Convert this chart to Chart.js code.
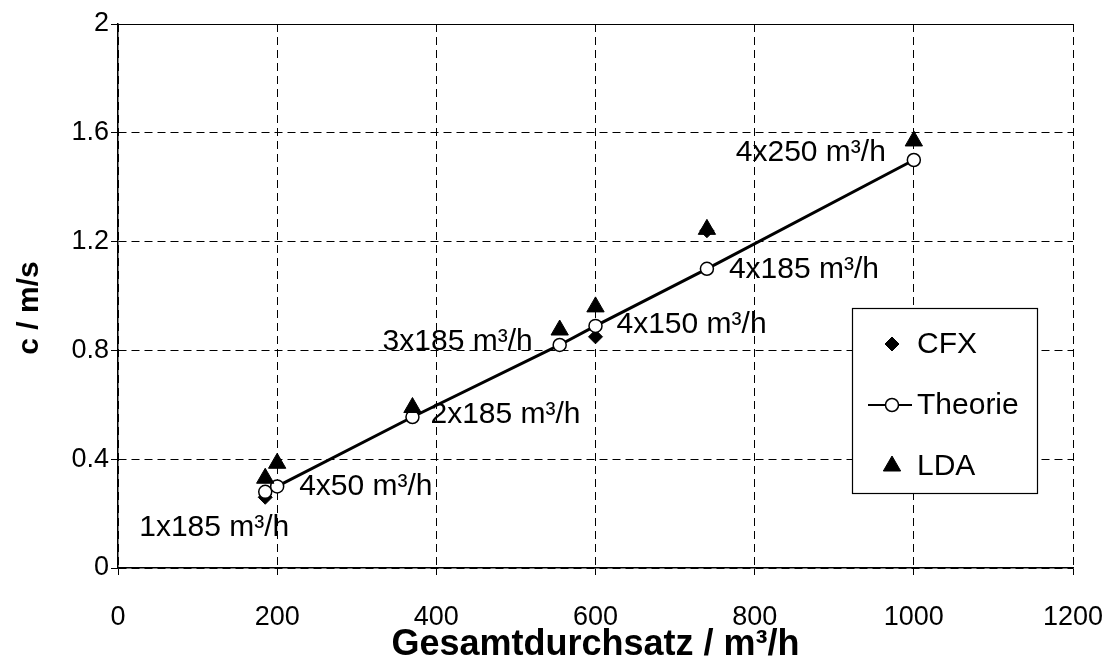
<!DOCTYPE html>
<html>
<head>
<meta charset="utf-8">
<script src="https://cdn.jsdelivr.net/npm/chart.js@4.4.1/dist/chart.umd.min.js"></script>
<style>
  html, body { margin: 0; padding: 0; background: #fff; }
  #wrap { width: 1109px; height: 671px; }
</style>
</head>
<body>
<div id="wrap"><canvas id="chart" width="1109" height="671"></canvas></div>
<script>
// Gesamtdurchsatz in m³/h for each operating case
const flows = [185, 200, 370, 555, 600, 740, 1000];
// Case names written next to the theory points
const caseLabels = ['1x185 m³/h', '4x50 m³/h', '2x185 m³/h', '3x185 m³/h', '4x150 m³/h', '4x185 m³/h', '4x250 m³/h'];
// Velocity c in m/s
const cfxValues = [0.26, null, 0.575, null, 0.85, 1.24, null];
const theorieValues = [0.28, 0.30, 0.555, 0.82, 0.89, 1.10, 1.50];
const ldaValues = [0.33, 0.385, 0.59, 0.875, 0.96, 1.245, 1.57];
// Axis ticks
const xTicks = [0, 200, 400, 600, 800, 1000, 1200];
const yTicks = [0, 0.4, 0.8, 1.2, 1.6, 2];
const yTitle = 'c / m/s';
const xTitle = 'Gesamtdurchsatz / m³/h';

const FONT = '"Liberation Sans", Arial, Helvetica, sans-serif';

// Offsets of the case labels from their theory point: [dx, dy, align]
const labelOffsets = [
  [-51, 36, 'center'],
  [22, 0, 'left'],
  [18, -2, 'left'],
  [-27, -3, 'right'],
  [21, -1, 'left'],
  [22, 1, 'left'],
  [-28, -7, 'right']
];

const toXY = (xs, ys) => xs.map((v, i) => ({ x: v, y: ys[i] }));

const caseLabelPlugin = {
  id: 'caseLabels',
  afterDatasetsDraw(chart) {
    const { ctx, scales: { x, y } } = chart;
    ctx.save();
    ctx.font = '30px ' + FONT;
    ctx.fillStyle = '#000';
    ctx.textBaseline = 'middle';
    caseLabels.forEach((txt, i) => {
      const [dx, dy, align] = labelOffsets[i];
      ctx.textAlign = align;
      ctx.fillText(txt, x.getPixelForValue(flows[i]) + dx, y.getPixelForValue(theorieValues[i]) + dy);
    });
    ctx.restore();
  }
};

// Rotated y-axis title, centred a little below the middle of the axis
const yTitlePlugin = {
  id: 'yTitle',
  afterDraw(chart) {
    const { ctx, chartArea } = chart;
    ctx.save();
    ctx.translate(30, (chartArea.top + chartArea.bottom) / 2 + 12);
    ctx.rotate(-Math.PI / 2);
    ctx.font = 'bold 30px ' + FONT;
    ctx.fillStyle = '#000';
    ctx.textAlign = 'center';
    ctx.textBaseline = 'middle';
    ctx.fillText(yTitle, 0, 0);
    ctx.restore();
  }
};

// Boxed legend placed inside the plot, lower right
const boxLegendPlugin = {
  id: 'boxLegend',
  afterDraw(chart) {
    const { ctx } = chart;
    const box = { x: 852, y: 308, w: 185, h: 185 };
    ctx.save();
    ctx.fillStyle = '#fff';
    ctx.fillRect(box.x, box.y, box.w, box.h);
    ctx.strokeStyle = '#000';
    ctx.lineWidth = 1.2;
    ctx.strokeRect(box.x + 0.5, box.y + 0.5, box.w, box.h);
    ctx.font = '30px ' + FONT;
    ctx.textBaseline = 'middle';
    ctx.textAlign = 'left';
    chart.data.datasets.forEach((ds, i) => {
      const cy = box.y + 36 + i * 61;
      const mx = box.x + 40;
      if (ds.showLine) {
        ctx.strokeStyle = ds.borderColor;
        ctx.lineWidth = 2;
        ctx.beginPath();
        ctx.moveTo(box.x + 16, cy);
        ctx.lineTo(box.x + 60, cy);
        ctx.stroke();
      }
      ctx.fillStyle = ds.pointBackgroundColor;
      ctx.strokeStyle = ds.pointBorderColor;
      ctx.lineWidth = ds.pointBorderWidth;
      Chart.helpers.drawPoint(ctx, {
        pointStyle: ds.pointStyle,
        radius: ds.pointRadius,
        borderWidth: ds.pointBorderWidth,
        rotation: 0
      }, mx, cy);
      ctx.fillStyle = '#000';
      ctx.fillText(ds.label, box.x + 65, cy + 1);
    });
    ctx.restore();
  }
};

new Chart(document.getElementById('chart'), {
  type: 'scatter',
  data: {
    datasets: [
      {
        label: 'CFX',
        data: toXY(flows, cfxValues),
        showLine: false,
        pointStyle: 'rectRot',
        pointRadius: 7,
        pointBackgroundColor: '#000',
        pointBorderColor: '#000',
        pointBorderWidth: 1,
        order: 3
      },
      {
        label: 'Theorie',
        data: toXY(flows, theorieValues),
        showLine: true,
        borderColor: '#000',
        borderWidth: 3,
        pointStyle: 'circle',
        pointRadius: 6.5,
        pointBackgroundColor: '#fff',
        pointBorderColor: '#000',
        pointBorderWidth: 1.5,
        order: 2
      },
      {
        label: 'LDA',
        data: toXY(flows, ldaValues),
        showLine: false,
        pointStyle: 'triangle',
        pointRadius: 10,
        pointBackgroundColor: '#000',
        pointBorderColor: '#000',
        pointBorderWidth: 1,
        order: 1
      }
    ]
  },
  options: {
    responsive: false,
    animation: false,
    devicePixelRatio: 1,
    layout: { padding: { top: 24, right: 36, left: 0, bottom: 0 } },
    plugins: {
      legend: { display: false },
      tooltip: { enabled: false }
    },
    scales: {
      x: {
        type: 'linear',
        min: xTicks[0],
        max: xTicks[xTicks.length - 1],
        afterBuildTicks: s => { s.ticks = xTicks.map(v => ({ value: v })); },
        afterFit: s => { s.height = 103; s.paddingLeft = 0; s.paddingRight = 0; },
        ticks: {
          color: '#000',
          font: { family: FONT, size: 27 },
          padding: 26,
          callback: v => String(v)
        },
        grid: { color: '#000', lineWidth: 1, tickLength: 7, tickColor: '#000' },
        border: { color: '#000', width: 1.5, dash: [8, 5] },
        title: {
          display: true,
          text: xTitle,
          color: '#000',
          font: { family: FONT, size: 36, weight: 'bold' },
          padding: { top: 0, bottom: 4 }
        }
      },
      y: {
        type: 'linear',
        min: yTicks[0],
        max: yTicks[yTicks.length - 1],
        afterBuildTicks: s => { s.ticks = yTicks.map(v => ({ value: v })); },
        afterFit: s => { s.width = 118; s.paddingTop = 0; s.paddingBottom = 0; },
        ticks: {
          color: '#000',
          font: { family: FONT, size: 27 },
          padding: 2,
          callback: v => String(+v.toFixed(1))
        },
        grid: { color: '#000', lineWidth: 1, tickLength: 7, tickColor: '#000' },
        border: {
          color: '#000',
          width: 1.5,
          dash: c => (c.tick && c.tick.value === yTicks[yTicks.length - 1]) ? [] : [8, 5]
        },
        title: { display: false }
      }
    }
  },
  plugins: [caseLabelPlugin, boxLegendPlugin, yTitlePlugin]
});
</script>
</body>
</html>
